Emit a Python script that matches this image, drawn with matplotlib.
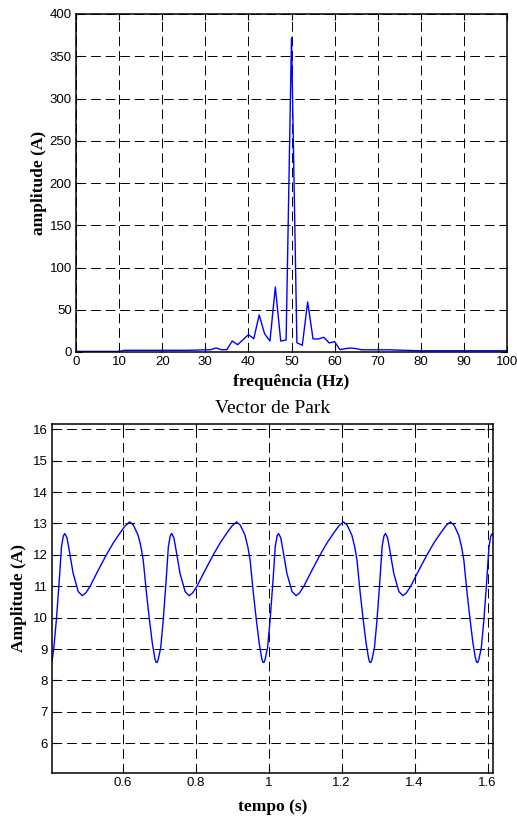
import numpy as np
import matplotlib
matplotlib.use("Agg")
import matplotlib.pyplot as plt
from matplotlib.patches import Rectangle

# --- spectrum (top panel) ---
freq_step = 1.25
spectrum_amp = [
    0.7, 0.7, 0.7, 0.7, 0.7, 0.7, 0.7, 0.7, 0.8,            # 0 .. 10 Hz
    2.0, 2.0, 2.0, 2.0, 2.0, 2.0, 2.0, 2.0, 2.0, 2.0, 2.0,   # 11.25 .. 23.75
    2.0, 2.1, 2.2, 2.4, 2.6, 2.7, 4.8, 2.7, 2.8,             # 25 .. 35
    13.0, 8.7, 14.5, 20.5, 15.8, 43.8, 21.7, 13.0, 76.9,     # 36.25 .. 46.25
    13.0, 14.2, 372.0, 11.0, 7.9, 59.2, 15.4, 15.4, 17.4,    # 47.5 .. 57.5
    10.7, 12.2, 2.8, 4.0, 4.7, 4.0, 2.6, 2.6, 2.6, 2.6,      # 58.75 .. 70
    2.6, 2.6, 2.4, 2.2, 2.0, 1.8, 1.6, 1.5, 1.5, 1.5, 1.5,   # 71.25 .. 83.75
    1.5, 1.5, 1.5, 1.5, 1.5, 1.5, 1.5, 1.5, 1.5, 1.5, 1.5,   # 85 .. 97.5
    1.5, 1.5,                                                # 98.75 .. 100
]
spectrum_freq = np.arange(len(spectrum_amp)) * freq_step

# --- Park vector modulus (bottom panel) ---
park_time = [
    0.406, 0.411, 0.418, 0.426, 0.432, 0.437, 0.441, 0.447, 0.453, 0.464,
    0.478, 0.489, 0.498, 0.510, 0.530, 0.555, 0.575, 0.592, 0.607, 0.619,
    0.629, 0.642, 0.650, 0.656, 0.665, 0.673, 0.681, 0.688, 0.691, 0.694,
    0.697, 0.704, 0.711, 0.719, 0.725, 0.730, 0.734, 0.740, 0.746, 0.757,
    0.771, 0.782, 0.791, 0.803, 0.823, 0.848, 0.868, 0.885, 0.900, 0.912,
    0.922, 0.935, 0.943, 0.949, 0.958, 0.966, 0.974, 0.981, 0.984, 0.987,
    0.990, 0.997, 1.004, 1.012, 1.018, 1.023, 1.027, 1.033, 1.039, 1.050,
    1.064, 1.075, 1.084, 1.096, 1.116, 1.141, 1.161, 1.178, 1.193, 1.205,
    1.215, 1.228, 1.236, 1.242, 1.251, 1.259, 1.267, 1.274, 1.277, 1.280,
    1.283, 1.290, 1.297, 1.305, 1.311, 1.316, 1.320, 1.326, 1.332, 1.343,
    1.357, 1.368, 1.377, 1.389, 1.409, 1.434, 1.454, 1.471, 1.486, 1.498,
    1.508, 1.521, 1.529, 1.535, 1.544, 1.552, 1.560, 1.567, 1.570, 1.573,
    1.576, 1.583, 1.590, 1.598, 1.604, 1.609, 1.613, 1.616,
]
park_amp = [
    8.60, 9.04, 9.93, 11.20, 12.26, 12.60, 12.68, 12.55, 12.16, 11.41,
    10.83, 10.70, 10.78, 10.99, 11.45, 12.00, 12.40, 12.69, 12.93, 13.05,
    12.95, 12.63, 12.25, 11.84, 10.78, 9.95, 9.19, 8.70, 8.58, 8.57,
    8.66, 9.04, 9.93, 11.20, 12.26, 12.60, 12.68, 12.55, 12.16, 11.41,
    10.83, 10.70, 10.78, 10.99, 11.45, 12.00, 12.40, 12.69, 12.93, 13.05,
    12.95, 12.63, 12.25, 11.84, 10.78, 9.95, 9.19, 8.70, 8.58, 8.57,
    8.66, 9.04, 9.93, 11.20, 12.26, 12.60, 12.68, 12.55, 12.16, 11.41,
    10.83, 10.70, 10.78, 10.99, 11.45, 12.00, 12.40, 12.69, 12.93, 13.05,
    12.95, 12.63, 12.25, 11.84, 10.78, 9.95, 9.19, 8.70, 8.58, 8.57,
    8.66, 9.04, 9.93, 11.20, 12.26, 12.60, 12.68, 12.55, 12.16, 11.41,
    10.83, 10.70, 10.78, 10.99, 11.45, 12.00, 12.40, 12.69, 12.93, 13.05,
    12.95, 12.63, 12.25, 11.84, 10.78, 9.95, 9.19, 8.70, 8.58, 8.57,
    8.66, 9.04, 9.93, 11.20, 12.26, 12.60, 12.68, 12.62,
]

top_xticks = [0, 10, 20, 30, 40, 50, 60, 70, 80, 90, 100]
top_yticks = [0, 50, 100, 150, 200, 250, 300, 350, 400]
bot_xticks = [0.6, 0.8, 1.0, 1.2, 1.4, 1.6]
bot_xticklabels = ["0.6", "0.8", "1", "1.2", "1.4", "1.6"]
bot_yticks = [6, 7, 8, 9, 10, 11, 12, 13, 14, 15, 16]

W, H = 517, 816
fig = plt.figure(figsize=(W / 100, H / 100), dpi=100)

tick_font = dict(family="Liberation Sans", size=9.5)
label_font = dict(family="Liberation Serif", size=12.5, weight="bold")
grid_style = dict(color="black", linestyle=(0, (10, 5)), linewidth=0.7)


def style_axes(ax):
    for s in ax.spines.values():
        s.set_linewidth(1.1)
        s.set_color("black")
    ax.tick_params(direction="in", length=4, width=0.8, top=True, right=True,
                   pad=3)
    for lab in ax.get_xticklabels() + ax.get_yticklabels():
        lab.set_fontfamily(tick_font["family"])
        lab.set_fontsize(tick_font["size"])
    ax.grid(True, **grid_style)
    ax.set_axisbelow(True)


# top: frequency spectrum
ax1 = fig.add_axes([76 / W, 1 - 352 / H, (507 - 76) / W, (352 - 14) / H])
ax1.plot(spectrum_freq, spectrum_amp, color="#0000ff", linewidth=1.0)
ax1.set_xlim(0, 100)
ax1.set_ylim(0, 400)
ax1.set_xticks(top_xticks)
ax1.set_yticks(top_yticks)
style_axes(ax1)
ax1.set_xlabel("frequência (Hz)", labelpad=4, **label_font)
ax1.set_ylabel("amplitude (A)", labelpad=2, **label_font)

# bottom: Park vector modulus
ax2 = fig.add_axes([52 / W, 1 - 773 / H, (493 - 52) / W, (773 - 424) / H])
ax2.plot(park_time, park_amp, color="#0000ff", linewidth=1.0)
ax2.set_xlim(0.406, 1.615)
ax2.set_ylim(5.05, 16.17)
ax2.set_xticks(bot_xticks)
ax2.set_xticklabels(bot_xticklabels)
ax2.set_yticks(bot_yticks)
style_axes(ax2)
ax2.set_xlabel("tempo (s)", labelpad=7, **label_font)
ax2.set_ylabel("Amplitude (A)", labelpad=4, **label_font)
ax2.set_title("Vector de Park", family="Liberation Serif", size=14, pad=8)

# strip where the two panels were joined, clipping the lower edge of the
# spectrum's x label
fig.patches.append(Rectangle((0, 1 - 395 / H), 1, 5 / H,
                             transform=fig.transFigure, facecolor="white",
                             edgecolor="none", zorder=10))

fig.savefig("out.png", dpi=100)
